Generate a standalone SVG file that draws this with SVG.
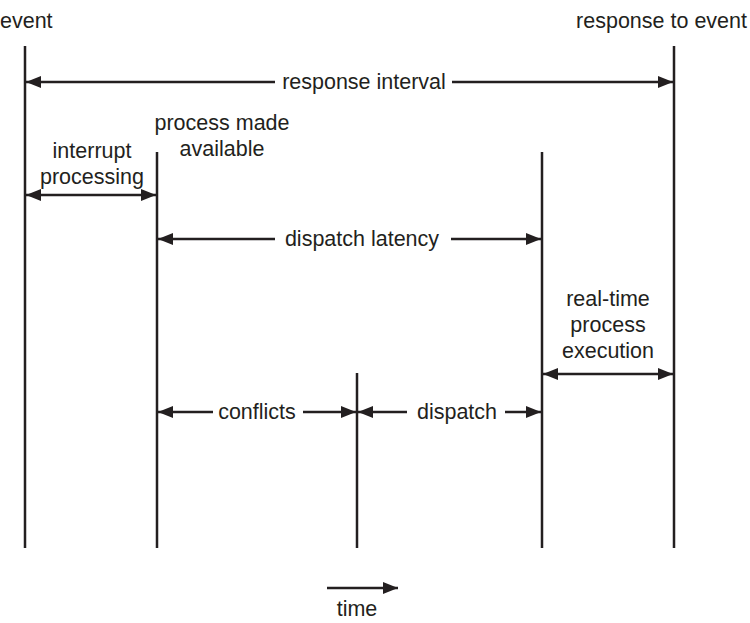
<svg xmlns="http://www.w3.org/2000/svg" width="750" height="623" viewBox="0 0 750 623">
<style>
text{font-family:"Liberation Sans",Arial,sans-serif;font-size:21.5px;fill:#231f20}
.m{text-anchor:middle}
.v{stroke:#231f20;stroke-width:2.5;fill:none}
.a{stroke:#231f20;stroke-width:2.5;fill:none}
</style>
<defs>
<marker id="ah" markerUnits="userSpaceOnUse" markerWidth="16" markerHeight="12" viewBox="0 0 16 12" refX="15" refY="6" orient="auto-start-reverse">
<path d="M0,0 L15,6 L0,12 Z" fill="#231f20"/>
</marker>
</defs>
<rect width="750" height="623" fill="#fff"/>
<g id="timelines">
<line class="v" x1="25" y1="46" x2="25" y2="548"/>
<line class="v" x1="157" y1="152" x2="157" y2="548"/>
<line class="v" x1="357" y1="373" x2="357" y2="548"/>
<line class="v" x1="542" y1="152" x2="542" y2="548"/>
<line class="v" x1="674" y1="46" x2="674" y2="548"/>
</g>
<g id="labels">
<text x="0" y="28">event</text>
<text x="747" y="28" text-anchor="end">response to event</text>
<text class="m" x="222" y="130">process made</text>
<text class="m" x="222" y="156">available</text>
<text class="m" x="92" y="158">interrupt</text>
<text class="m" x="92" y="184">processing</text>
<text class="m" x="608" y="306">real-time</text>
<text class="m" x="608" y="332">process</text>
<text class="m" x="608" y="358">execution</text>
<text class="m" x="357" y="616">time</text>
</g>
<g id="connectors">
<line class="a" x1="26" y1="82" x2="275" y2="82" marker-start="url(#ah)"/>
<line class="a" x1="452" y1="82" x2="673" y2="82" marker-end="url(#ah)"/>
<text class="m" x="364" y="89">response interval</text>
<line class="a" x1="26" y1="195" x2="156" y2="195" marker-start="url(#ah)" marker-end="url(#ah)"/>
<line class="a" x1="158" y1="239" x2="275" y2="239" marker-start="url(#ah)"/>
<line class="a" x1="451" y1="239" x2="541" y2="239" marker-end="url(#ah)"/>
<text class="m" x="362" y="246">dispatch latency</text>
<line class="a" x1="543" y1="374" x2="673" y2="374" marker-start="url(#ah)" marker-end="url(#ah)"/>
<line class="a" x1="158" y1="412" x2="213" y2="412" marker-start="url(#ah)"/>
<line class="a" x1="303" y1="412" x2="356" y2="412" marker-end="url(#ah)"/>
<text class="m" x="257" y="419">conflicts</text>
<line class="a" x1="358" y1="412" x2="407" y2="412" marker-start="url(#ah)"/>
<line class="a" x1="505" y1="412" x2="541" y2="412" marker-end="url(#ah)"/>
<text class="m" x="457" y="419">dispatch</text>
<line class="a" x1="327" y1="588" x2="398" y2="588" marker-end="url(#ah)"/>
</g>
</svg>
